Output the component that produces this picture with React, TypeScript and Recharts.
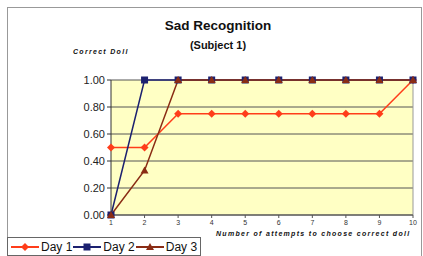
import React from 'react'
import { LineChart, Line, XAxis, YAxis, CartesianGrid, ReferenceLine } from 'recharts'

const attempts = [1, 2, 3, 4, 5, 6, 7, 8, 9, 10]
const day1 = [0.5, 0.5, 0.75, 0.75, 0.75, 0.75, 0.75, 0.75, 0.75, 1.0]
const day2 = [0, 1, 1, 1, 1, 1, 1, 1, 1, 1]
const day3 = [0, 0.33, 1, 1, 1, 1, 1, 1, 1, 1]
const yTicks = [0, 0.2, 0.4, 0.6, 0.8, 1.0]

const data = attempts.map((a, i) => ({ attempt: a, day1: day1[i], day2: day2[i], day3: day3[i] }))

const C1 = '#ff3d1a'
const C2 = '#1c2170'
const C3 = '#8a2c14'

function Diamond({ cx, cy }: any) {
  if (cx == null) return null
  return <path d={`M${cx},${cy - 4} L${cx + 4},${cy} L${cx},${cy + 4} L${cx - 4},${cy} Z`} fill={C1} />
}
function Square({ cx, cy }: any) {
  if (cx == null) return null
  return <rect x={cx - 3.5} y={cy - 3.5} width={7} height={7} fill={C2} />
}
function Triangle({ cx, cy }: any) {
  if (cx == null) return null
  return <path d={`M${cx},${cy - 4} L${cx + 4},${cy + 3} L${cx - 4},${cy + 3} Z`} fill={C3} />
}

const tinyLabel: React.CSSProperties = {
  position: 'absolute', fontFamily: 'Arial, Liberation Sans, sans-serif', fontStyle: 'italic',
  fontWeight: 'bold', fontSize: 7, letterSpacing: 1.3, color: '#111', whiteSpace: 'nowrap',
}

function LegendItem({ color, label, shape }: { color: string; label: string; shape: string }) {
  return (
    <span style={{ display: 'inline-flex', alignItems: 'center', marginRight: 1 }}>
      <svg width={28} height={12}>
        <line x1={0} y1={6} x2={28} y2={6} stroke={color} strokeWidth={2} />
        {shape === 'diamond' && <path d="M14,2 L18,6 L14,10 L10,6 Z" fill={color} />}
        {shape === 'square' && <rect x={10.5} y={2.5} width={7} height={7} fill={color} />}
        {shape === 'triangle' && <path d="M14,2 L18,9 L10,9 Z" fill={color} />}
      </svg>
      <span style={{ marginLeft: 2 }}>{label}</span>
    </span>
  )
}

export default function App() {
  return (
    <div style={{ position: 'absolute', left: 0, top: 0, width: 423, height: 256, background: '#fff', overflow: 'hidden' }}>
      <div style={{ position: 'absolute', left: 7, top: 7, width: 413, height: 260, border: '1px solid #999' }} />
      <div style={{ position: 'absolute', left: 0, top: 18, width: 436, textAlign: 'center', fontFamily: 'Arial, Liberation Sans, sans-serif', fontWeight: 'bold', fontSize: 13.5, color: '#111' }}>
        Sad Recognition
      </div>
      <div style={{ position: 'absolute', left: 0, top: 39, width: 436, textAlign: 'center', fontFamily: 'Arial, Liberation Sans, sans-serif', fontWeight: 'bold', fontSize: 11, color: '#111' }}>
        (Subject 1)
      </div>
      <div style={{ ...tinyLabel, left: 73, top: 48 }}>Correct Doll</div>
      <div style={{ ...tinyLabel, left: 216, top: 230 }}>Number of attempts to choose correct doll</div>
      <div style={{ position: 'absolute', left: 0, top: 0 }}>
        <LineChart width={423} height={256} data={data} margin={{ top: 80, right: 10, bottom: 20, left: 0 }}>
          <CartesianGrid vertical={false} stroke="#555" fill="#ffffc4" fillOpacity={1} />
          <XAxis
            dataKey="attempt" type="number" domain={[1, 10]} ticks={attempts}
            height={21} tick={{ fontSize: 7, fill: '#333', fontFamily: 'Arial' }}
            axisLine={{ stroke: '#555' }} tickLine={{ stroke: '#555' }} tickSize={3}
          />
          <YAxis
            domain={[0, 1]} ticks={yTicks} width={111} tickFormatter={(v) => v.toFixed(2)}
            tick={{ fontSize: 11, fill: '#222', fontFamily: 'Arial' }}
            axisLine={{ stroke: '#333' }} tickLine={{ stroke: '#333' }} tickSize={4}
          />
          <ReferenceLine x={10} stroke="#999" />
          <Line dataKey="day1" stroke={C1} strokeWidth={1.5} dot={<Diamond />} isAnimationActive={false} />
          <Line dataKey="day2" stroke={C2} strokeWidth={1.5} dot={<Square />} isAnimationActive={false} />
          <Line dataKey="day3" stroke={C3} strokeWidth={1.5} dot={<Triangle />} isAnimationActive={false} />
        </LineChart>
      </div>
      <div style={{ position: 'absolute', left: 7, top: 237, width: 194, height: 19, border: '1px solid #666', background: '#fff', fontFamily: 'Arial, Liberation Sans, sans-serif', fontSize: 12, color: '#111', paddingLeft: 3, paddingTop: 2, boxSizing: 'border-box', whiteSpace: 'nowrap', display: 'flex', alignItems: 'flex-start', lineHeight: '14px' }}>
        <LegendItem color={C1} label="Day 1" shape="diamond" />
        <LegendItem color={C2} label="Day 2" shape="square" />
        <LegendItem color={C3} label="Day 3" shape="triangle" />
      </div>
    </div>
  )
}
